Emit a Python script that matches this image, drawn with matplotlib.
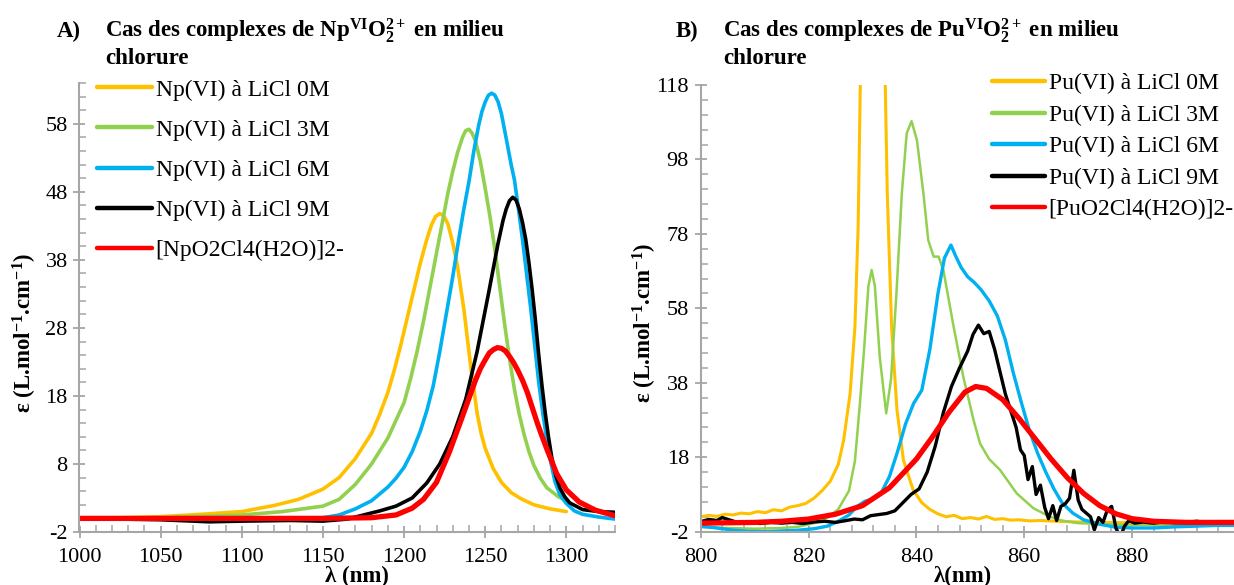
import numpy as np
import matplotlib
matplotlib.use('Agg')
import matplotlib.pyplot as plt
from matplotlib.ticker import MultipleLocator

plt.rcParams['font.family'] = ['Liberation Serif', 'DejaVu Serif']
plt.rcParams['mathtext.fontset'] = 'custom'
plt.rcParams['mathtext.rm'] = 'Liberation Serif'
plt.rcParams['mathtext.bf'] = 'Liberation Serif:bold'
plt.rcParams['mathtext.it'] = 'Liberation Serif:italic'
plt.rcParams['axes.unicode_minus'] = False

# ---- panel A : Np(VI) ----
np0_x = [1000, 1025, 1050, 1075, 1100, 1120, 1135, 1150, 1160, 1170, 1180, 1185, 1190, 1194, 1198, 1202, 1206, 1210,
         1214, 1217, 1219.5, 1222, 1224.5, 1227, 1230, 1233, 1237, 1241, 1243, 1245, 1247.5, 1250, 1255, 1260, 1266,
         1272, 1280, 1290, 1300]
np0_y = [0.0, 0.1, 0.25, 0.6, 1.0, 1.9, 2.8, 4.3, 6.0, 8.8, 12.5, 15.3, 18.5, 21.8, 25.5, 29.5, 33.5, 37.5,
         41.0, 43.2, 44.4, 44.8, 44.5, 43.3, 40.5, 37.0, 30.5, 22.5, 19.0, 15.5, 12.5, 10.3, 7.3, 5.3, 3.8,
         2.9, 2.0, 1.4, 1.0]
np3_x = [1000, 1050, 1100, 1125, 1150, 1160, 1170, 1180, 1190, 1200, 1204, 1208, 1212, 1216, 1220, 1224, 1227, 1230,
         1233, 1236, 1238, 1240, 1242, 1244, 1247, 1250, 1253, 1256, 1259, 1262, 1265, 1268, 1271, 1274, 1277, 1280,
         1284, 1288, 1295, 1300]
np3_y = [0.0, 0.1, 0.5, 1.0, 1.8, 2.8, 5.0, 8.0, 11.8, 17.0, 20.5, 24.5, 29.0, 34.0, 39.0, 44.0, 47.8, 51.0,
         53.8, 56.0, 57.0, 57.2, 56.6, 55.5, 52.5, 48.5, 44.3, 39.5, 34.0, 28.5, 23.5, 19.0, 15.3, 12.3, 9.8, 7.8,
         5.9, 4.5, 3.2, 2.6]
np6_x = [1000, 1050, 1100, 1150, 1160, 1170, 1180, 1190, 1195, 1200, 1205, 1210, 1214, 1218, 1222, 1226, 1230, 1233,
         1236.5, 1240, 1243, 1246, 1248, 1250, 1252, 1254, 1256, 1258, 1260, 1263, 1266, 1268, 1270.5, 1273, 1275.5,
         1278, 1280.5, 1283, 1285.5, 1288, 1290.5, 1293, 1296, 1300, 1305, 1310, 1320, 1330]
np6_y = [0.0, 0.0, -0.1, 0.1, 0.5, 1.4, 2.6, 4.6, 5.9, 7.5, 9.8, 12.8, 15.8, 19.5, 24.5, 30.0, 35.5, 40.0,
         45.0, 49.5, 54.0, 57.8, 59.8, 61.2, 62.2, 62.5, 62.2, 61.2, 59.5, 55.8, 52.0, 49.8, 45.5, 41.0, 36.0,
         31.0, 25.5, 20.0, 15.5, 11.5, 8.2, 5.4, 3.5, 2.2, 1.1, 0.6, 0.2, -0.1]
np9_x = [1000, 1050, 1080, 1100, 1130, 1150, 1165, 1175, 1185, 1195, 1205, 1214, 1222, 1230, 1238, 1245, 1252, 1258,
         1261, 1263, 1265, 1267, 1269, 1271, 1273, 1275, 1277, 1279, 1281, 1283, 1285, 1287, 1289, 1291, 1293.5,
         1296, 1299, 1302, 1310, 1320, 1330]
np9_y = [0.0, -0.2, -0.5, -0.4, -0.3, -0.4, -0.1, 0.5, 1.1, 1.8, 3.0, 5.2, 8.0, 12.0, 17.5, 24.5, 33.0, 40.5,
         43.8, 45.5, 46.7, 47.2, 46.8, 45.5, 43.5, 41.0, 37.5, 33.5, 29.0, 24.0, 19.5, 15.5, 12.0, 9.0, 6.3,
         4.5, 3.2, 2.3, 1.3, 1.0, 0.9]
npc_x = [1000, 1100, 1150, 1180, 1195, 1205, 1212, 1220, 1228, 1236, 1244, 1247, 1250, 1252.5, 1255, 1257.5, 1260,
         1262.5, 1265, 1267.5, 1270, 1273, 1276, 1279, 1282, 1285, 1288, 1294, 1300, 1308, 1318, 1330]
npc_y = [0.0, 0.0, 0.0, 0.1, 0.5, 1.5, 2.8, 5.3, 9.8, 15.0, 20.3, 22.0, 23.3, 24.3, 24.8, 25.1, 25.0,
         24.6, 23.8, 22.9, 21.8, 20.3, 18.5, 16.3, 14.1, 12.1, 10.2, 6.6, 4.2, 2.4, 1.2, 0.4]
np_labels = ["Np(VI) à LiCl 0M", "Np(VI) à LiCl 3M", "Np(VI) à LiCl 6M", "Np(VI) à LiCl 9M", "[NpO2Cl4(H2O)]2-"]

# ---- panel B : Pu(VI) ----
pu0_x = [800, 801.5, 803, 804.5, 806, 807.5, 809, 810.5, 812, 813.5, 815, 816.5, 818, 819.5, 821, 822.5, 824, 825.5,
         826.5, 827.7, 828.6, 829.2, 829.6, 830.5, 831.9, 833.3, 834.2, 834.6, 835.4, 836.4, 837.6, 839.4, 841, 842.5,
         844, 845.5, 847, 848.5, 850, 851.5, 853, 854.5, 856, 857.5, 859, 861, 863, 866, 870, 875, 880, 885, 890, 895, 899]
pu0_y = [2.0, 2.4, 2.1, 2.7, 2.5, 3.0, 2.8, 3.4, 3.1, 3.9, 3.6, 4.6, 5.0, 5.6, 7.0, 9.0, 11.5, 16.0,
         22.5, 35.0, 53.0, 80.0, 118.5, 140.0, 145.0, 140.0, 120.0, 89.0, 53.0, 30.7, 17.2, 9.2, 5.8, 4.0,
         2.8, 2.0, 2.4, 1.5, 1.8, 1.4, 2.1, 1.3, 1.5, 1.1, 1.2, 0.9, 1.0, 0.8, 0.6, 0.5, 0.4, 0.4, 0.4, 0.4, 0.4]
pu3_x = [800, 805, 810, 815, 818, 821, 823.5, 825.5, 827.5, 828.6, 829.5, 830.3, 831.1, 831.7, 832.3, 833.2, 834.4,
         835.3, 836.3, 837.3, 838.2, 839.1, 840.1, 841.3, 842.2, 843.2, 844.1, 845, 846.9, 848.7, 850.6, 851.8, 853.5,
         855.5, 858.6, 861.7, 864.8, 867, 870, 875, 880, 885, 890, 895, 899]
pu3_y = [-0.8, -1.0, -1.2, -1.0, -0.7, 0.3, 1.8, 4.0, 9.0, 17.0, 32.0, 47.0, 64.0, 68.3, 64.0, 45.0, 29.8,
         39.0, 62.0, 88.9, 105.0, 108.3, 103.2, 88.9, 76.3, 71.9, 71.9, 68.3, 53.1, 39.6, 28.0, 21.7, 17.5,
         14.6, 8.3, 4.3, 2.0, 1.0, 0.3, 0.0, -0.2, -0.2, -0.2, -0.2, -0.2]
pu6_x = [800, 803, 806, 809, 812, 815, 818, 821, 823.5, 825.5, 827.5, 829, 830.5, 832, 833.5, 835, 836.5, 838, 839.5,
         841, 842.5, 844, 845.2, 846.4, 847.3, 848.3, 849.5, 850.7, 852, 853.5, 855, 856.5, 858, 859.5, 861, 862.5,
         864, 865.5, 867, 869, 871, 874, 877, 880, 884, 888, 892, 896, 899]
pu6_y = [-0.5, -1.0, -1.6, -1.9, -2.0, -1.8, -1.6, -1.2, -0.5, 0.8, 2.5, 4.8, 6.2, 6.8, 8.5, 12.8, 19.5, 27.0, 32.5,
         36.0, 47.0, 62.0, 71.5, 75.0, 72.0, 69.0, 66.5, 65.0, 63.0, 60.0, 56.0, 49.5, 40.5, 32.5, 25.0, 19.0,
         14.0, 9.5, 5.8, 3.0, 1.2, 0.0, -0.8, -1.0, -1.0, -0.7, -0.5, -0.3, -0.3]
pu9_x = [800, 801.5, 803, 804, 805.5, 807, 809, 811, 813, 815, 817, 819, 821, 823, 825, 827, 828.5, 830, 831.5, 833,
         834.5, 836, 837.5, 839, 840.5, 842, 843.5, 845, 846.5, 848, 849.5, 850.5, 851.5, 852.5, 853.5, 854.5, 855.5,
         856.5, 857.5, 858.5, 859.3, 860, 860.7, 861.5, 862.2, 863, 863.8, 864.5, 865.3, 866, 866.8, 867.6, 868.4,
         869.2, 870, 870.7, 871.5, 872.3, 873, 873.8, 874.6, 875.4, 876.2, 877, 877.8, 878.6, 879.4, 880.5, 882, 884,
         886, 888, 890, 892, 894, 896, 899]
pu9_y = [0.7, 1.3, 1.0, 1.8, 1.1, 0.4, 0.6, 0.2, 0.5, 0.3, 0.5, 0.2, 0.6, 0.8, 0.5, 1.0, 1.4, 1.2, 2.3, 2.6,
         2.9, 3.6, 5.8, 8.0, 9.5, 14.0, 21.0, 30.0, 37.0, 42.0, 46.5, 51.0, 53.5, 51.2, 51.8, 47.0, 41.0,
         35.0, 30.5, 26.0, 20.0, 18.5, 12.0, 15.5, 8.0, 10.5, 4.5, 1.5, 5.0, 1.0, 4.8, 5.5, 7.0,
         14.5, 6.5, 4.0, 3.0, 2.0, -1.5, 1.8, 0.5, 3.8, 4.8, -1.0, -3.5, -0.5, 1.0, 0.3, 0.6, 0.3,
         0.7, 0.4, 0.5, 0.8, 0.4, 0.6, 0.5]
puc_x = [800, 810, 815, 820, 825, 830, 835, 840, 843, 846, 849, 851, 853, 856, 859, 862, 865, 868, 871, 874, 877,
         880, 884, 890, 899]
puc_y = [0.3, 0.5, 0.8, 1.4, 2.7, 5.0, 9.8, 17.5, 23.5, 30.0, 35.5, 37.0, 36.5, 33.5, 28.5, 23.0, 17.5, 12.5,
         8.3, 5.0, 2.8, 1.5, 0.8, 0.5, 0.5]
pu_labels = ["Pu(VI) à LiCl 0M", "Pu(VI) à LiCl 3M", "Pu(VI) à LiCl 6M", "Pu(VI) à LiCl 9M", "[PuO2Cl4(H2O)]2-"]

colors = ['#FFC000', '#92D050', '#00B0F0', '#000000', '#FF0000']
W, H = 1234, 585
gray = '#A6A6A6'


def style(ax):
    for s in ['top', 'right']:
        ax.spines[s].set_visible(False)
    for s in ['left', 'bottom']:
        ax.spines[s].set_color(gray)
        ax.spines[s].set_linewidth(1.5)
    ax.tick_params(which='major', direction='inout', length=9, width=1.3, color=gray, labelsize=16, pad=4)
    ax.tick_params(which='minor', direction='in', length=5, width=1.1, color=gray)
    ax.tick_params(axis='x', which='major', pad=7)


fig = plt.figure(figsize=(W / 100, H / 100), dpi=100)

# panel A
axA = fig.add_axes([79.5 / W, (H - 532) / H, (615 - 79.5) / W, (532 - 83) / H])
seriesA = [(np0_x, np0_y), (np3_x, np3_y), (np6_x, np6_y), (np9_x, np9_y), (npc_x, npc_y)]
lwA = [2.6, 2.6, 2.6, 2.6, 3.8]
for (x, y), c, lw, lab in zip(seriesA, colors, lwA, np_labels):
    axA.plot(x, y, color=c, lw=lw, label=lab, solid_joinstyle='round', solid_capstyle='round')
axA.set_xlim(1000, 1330)
axA.set_ylim(-2, 64)
axA.set_xticks(np.arange(1000, 1301, 50))
axA.set_yticks(np.arange(-2, 59, 10))
axA.xaxis.set_minor_locator(MultipleLocator(10))
axA.yaxis.set_minor_locator(MultipleLocator(2))
style(axA)
legA = axA.legend(loc='upper left', bbox_to_anchor=(97 / W, 1 - 79 / H), bbox_transform=fig.transFigure,
                  frameon=False, fontsize=17, handlelength=2.33, handletextpad=0.15, labelspacing=0.79,
                  borderpad=0, borderaxespad=0)
for l in legA.get_lines():
    l.set_linewidth(3.2)

# panel B
axB = fig.add_axes([700.7 / W, (H - 531.7) / H, (W - 700.7) / W, (531.7 - 85) / H])
seriesB = [(pu0_x, pu0_y), (pu3_x, pu3_y), (pu6_x, pu6_y), (pu9_x, pu9_y), (puc_x, puc_y)]
lwB = [2.2, 1.8, 2.4, 2.4, 3.8]
for (x, y), c, lw, lab in zip(seriesB, colors, lwB, pu_labels):
    axB.plot(x, y, color=c, lw=lw, label=lab, solid_joinstyle='round', solid_capstyle='round')
axB.set_xlim(800, 898.9)
axB.set_ylim(-2, 118)
axB.set_xticks(np.arange(800, 881, 20))
axB.set_yticks(np.arange(-2, 119, 20))
axB.set_xticks(np.arange(800, 899, 4), minor=True)
axB.set_yticks(np.arange(-2, 119, 4), minor=True)
style(axB)
legB = axB.legend(loc='upper left', bbox_to_anchor=(992 / W, 1 - 73 / H), bbox_transform=fig.transFigure,
                  frameon=False, fontsize=17, handlelength=2.25, handletextpad=0.15, labelspacing=0.42,
                  borderpad=0, borderaxespad=0)
for l in legB.get_lines():
    l.set_linewidth(3.2)

# titles
tkw = dict(fontsize=16.5, fontweight='bold', va='baseline', ha='left')
fig.text(57 / W, 1 - 37 / H, "A)", **tkw)
fig.text(105 / W, 1 - 37 / H, r"Cas des complexes de Np$^{\mathbf{VI}}$O$_{\mathbf{2}}^{\mathbf{2+}}$ en milieu", **tkw)
fig.text(105 / W, 1 - 64 / H, "chlorure", **tkw)
fig.text(676 / W, 1 - 37 / H, "B)", **tkw)
fig.text(723 / W, 1 - 37 / H, r"Cas des complexes de Pu$^{\mathbf{VI}}$O$_{\mathbf{2}}^{\mathbf{2+}}$ en milieu", **tkw)
fig.text(723 / W, 1 - 64 / H, "chlorure", **tkw)

# axis labels
lkw = dict(fontsize=16.5, fontweight='bold', ha='center', va='center', rotation=90)
fig.text(25 / W, 1 - 333 / H, r"ε (L.mol$^{\mathbf{-1}}$.cm$^{\mathbf{-1}}$)", **lkw)
fig.text(645 / W, 1 - 323 / H, r"ε (L.mol$^{\mathbf{-1}}$.cm$^{\mathbf{-1}}$)", **lkw)
fig.text(357 / W, 1 - 582 / H, "λ (nm)", fontsize=16.5, fontweight='bold', ha='center', va='baseline')
fig.text(963 / W, 1 - 582 / H, "λ(nm)", fontsize=16.5, fontweight='bold', ha='center', va='baseline')

fig.savefig('out.png', dpi=100)
